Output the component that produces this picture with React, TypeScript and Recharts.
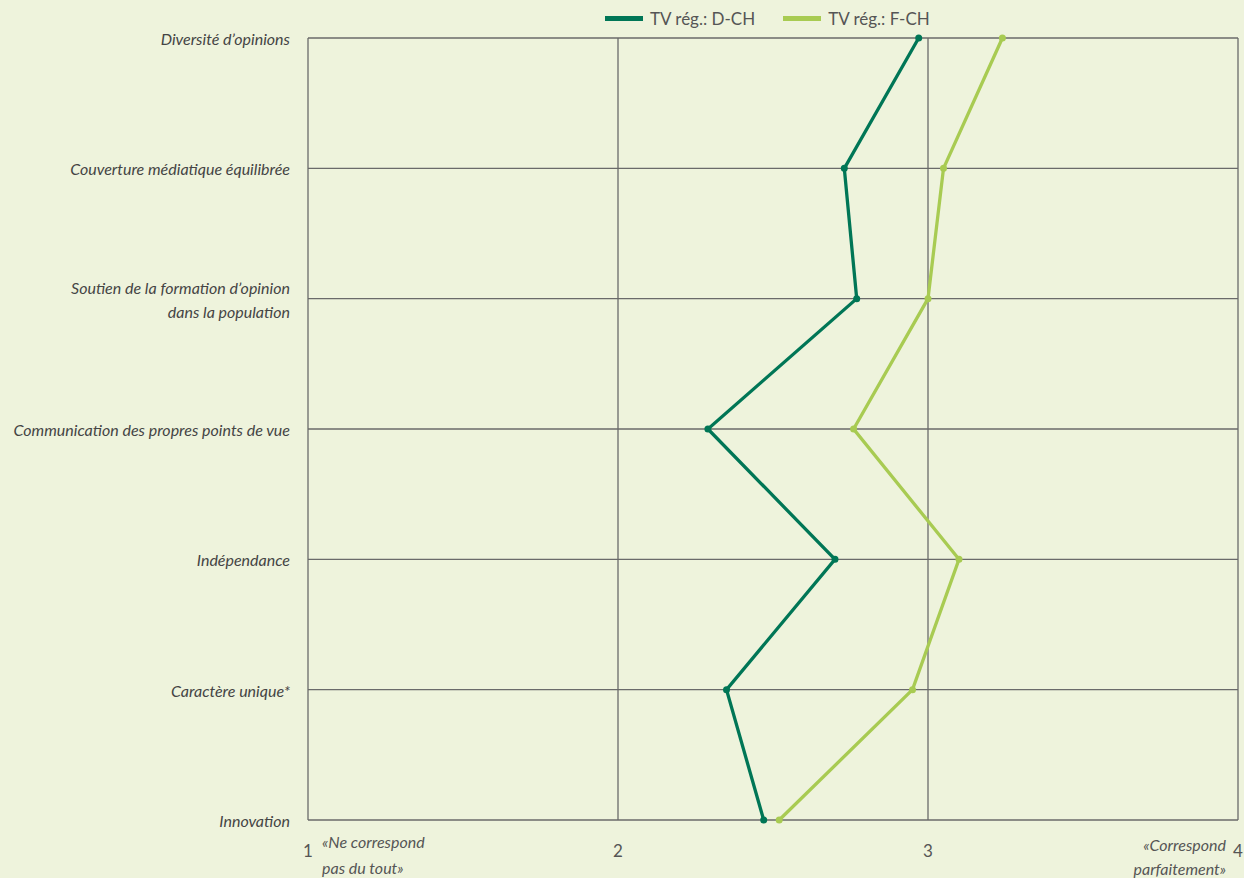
import React from "react";
import {
  LineChart,
  Line,
  XAxis,
  YAxis,
  CartesianGrid,
} from "recharts";

const categories = [
  "Diversité d’opinions",
  "Couverture médiatique équilibrée",
  "Soutien de la formation d’opinion\ndans la population",
  "Communication des propres points de vue",
  "Indépendance",
  "Caractère unique*",
  "Innovation",
];

const dch = [2.97, 2.73, 2.77, 2.29, 2.7, 2.35, 2.47];
const fch = [3.24, 3.05, 3.0, 2.76, 3.1, 2.95, 2.52];

const xTicks = [1, 2, 3, 4];
const lowLabel = ["«Ne correspond", "pas du tout»"];
const highLabel = ["«Correspond", "parfaitement»"];

const seriesNames = ["TV rég.: D-CH", "TV rég.: F-CH"];
const COLORS = ["#007656", "#a8cb52"];

const data = categories.map((cat, i) => ({
  cat,
  dch: dch[i],
  fch: fch[i],
}));

const FONT = "Lato, 'Open Sans', sans-serif";

function CategoryTick(props: any) {
  const { x, y, payload } = props;
  const lines = String(payload.value).split("\n");
  const start = -((lines.length - 1) * 24) / 2;
  return (
    <text
      x={x}
      y={y}
      textAnchor="end"
      fill="#444"
      fontFamily={FONT}
      fontStyle="italic"
      fontSize={16}
    >
      {lines.map((l, i) => (
        <tspan key={i} x={x} dy={i === 0 ? start + 7 : 24}>
          {l}
        </tspan>
      ))}
    </text>
  );
}

function ValueTick(props: any) {
  const { x, y, payload } = props;
  const v = payload.value;
  return (
    <g>
      <text
        x={x}
        y={y + 37}
        textAnchor="middle"
        fill="#555"
        fontFamily={FONT}
        fontSize={17}
      >
        {v}
      </text>
      {v === xTicks[0] && (
        <text
          x={x + 14}
          y={y + 28}
          fill="#555"
          fontFamily={FONT}
          fontStyle="italic"
          fontSize={16}
        >
          <tspan x={x + 14}>{lowLabel[0]}</tspan>
          <tspan x={x + 14} dy={26}>
            {lowLabel[1]}
          </tspan>
        </text>
      )}
      {v === xTicks[xTicks.length - 1] && (
        <text
          x={x - 12}
          y={y + 31}
          textAnchor="end"
          fill="#555"
          fontFamily={FONT}
          fontStyle="italic"
          fontSize={16}
        >
          <tspan x={x - 12}>{highLabel[0]}</tspan>
          <tspan x={x - 12} dy={24}>
            {highLabel[1]}
          </tspan>
        </text>
      )}
    </g>
  );
}

function TopLegend() {
  return (
    <div
      style={{
        position: "absolute",
        left: 605,
        top: 8,
        display: "flex",
        gap: 28,
        fontFamily: FONT,
        fontSize: 17,
        color: "#555",
      }}
    >
      {seriesNames.map((name, i) => (
        <div key={name} style={{ display: "flex", alignItems: "center" }}>
          <span
            style={{
              display: "inline-block",
              width: 38,
              height: 5,
              background: COLORS[i],
              marginRight: 7,
            }}
          />
          {name}
        </div>
      ))}
    </div>
  );
}

export default function App() {
  return (
    <div
      style={{
        position: "absolute",
        left: 0,
        top: 0,
        width: 1244,
        height: 878,
        background: "#eef3dc",
      }}
    >
      <LineChart
        width={1244}
        height={878}
        data={data}
        layout="vertical"
        margin={{ top: 38, right: 6, bottom: 0, left: 0 }}
      >
        <CartesianGrid stroke="#6a6a6a" strokeWidth={1.3} />
        <XAxis
          type="number"
          domain={[1, 4]}
          ticks={xTicks}
          axisLine={false}
          tickLine={false}
          tickSize={0}
          tickMargin={0}
          height={58}
          tick={<ValueTick />}
          interval={0}
        />
        <YAxis
          type="category"
          dataKey="cat"
          scale="point"
          width={308}
          axisLine={false}
          tickLine={false}
          tickSize={0}
          tickMargin={18}
          tick={<CategoryTick />}
          interval={0}
        />
        <Line
          dataKey="dch"
          name={seriesNames[0]}
          stroke={COLORS[0]}
          strokeWidth={3.3}
          dot={{ r: 3.5, fill: COLORS[0], stroke: COLORS[0], strokeWidth: 0 }}
          isAnimationActive={false}
        />
        <Line
          dataKey="fch"
          name={seriesNames[1]}
          stroke={COLORS[1]}
          strokeWidth={3.3}
          dot={{ r: 3.5, fill: COLORS[1], stroke: COLORS[1], strokeWidth: 0 }}
          isAnimationActive={false}
        />
      </LineChart>
      <TopLegend />
    </div>
  );
}
